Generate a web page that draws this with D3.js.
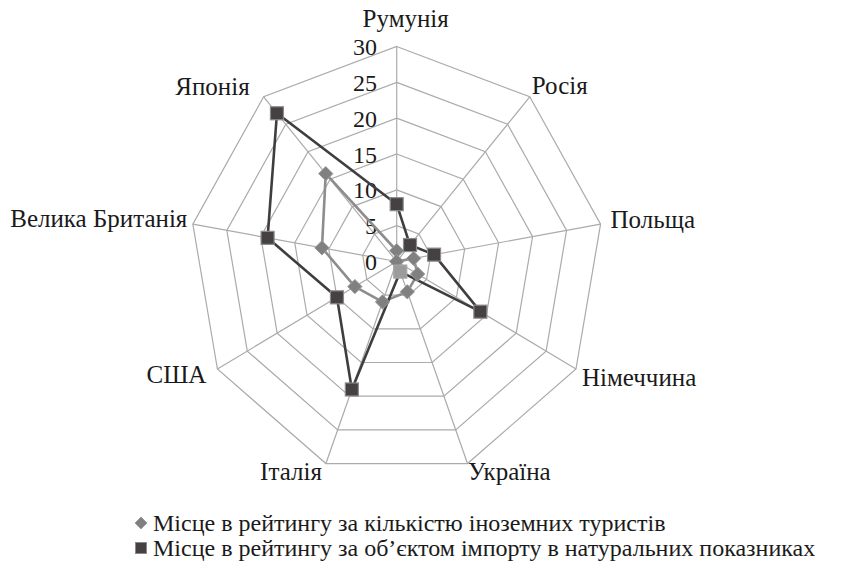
<!DOCTYPE html>
<html><head><meta charset="utf-8">
<script src="https://cdn.jsdelivr.net/npm/d3@7"></script>
</head>
<body style="margin:0;background:#fff">
<svg id="chart" width="853" height="564"></svg>
<script>
// ---- data ----
const categories = ["Румунія","Росія","Польща","Німеччина","Україна","Італія","США","Велика Британія","Японія"];
const tourists = [1.5, 0, 2.5, 3.5, 4.5, 6, 7, 11, 16];
const imports  = [8, 3, 5.5, 14, 1.5, 19, 10, 19, 27];
const tickValues = [0, 5, 10, 15, 20, 25, 30];
const seriesNames = ["Місце в рейтингу за кількістю іноземних туристів",
                     "Місце в рейтингу за об’єктом імпорту в натуральних показниках"];

// ---- layout ----
const svg = d3.select("#chart");
const FONT = '"Liberation Serif"';
const cx = 396.7, cy = 261.5;
const rX = d3.scaleLinear().domain([0, 30]).range([0, 207]);
const rY = d3.scaleLinear().domain([0, 30]).range([0, 215]);
const ang = d3.scalePoint().domain(d3.range(categories.length)).range([0, 2*Math.PI*(categories.length-1)/categories.length]);
const pt = (i, v) => [cx + rX(v)*Math.sin(ang(i)), cy - rY(v)*Math.cos(ang(i))];
// label offsets from outer vertex (layout only)
const labelLayout = [
  {a:"middle", dx:9, dy:-19.5},
  {a:"start", dx:2, dy:-3},
  {a:"start", dx:10, dy:4},
  {a:"start", dx:6, dy:17},
  {a:"start", dx:0.5, dy:16.5},
  {a:"end", dx:-4, dy:16.5},
  {a:"end", dx:-11, dy:14},
  {a:"end", dx:-5.5, dy:2.5},
  {a:"end", dx:-14, dy:-2}
];
const gridColor = "#ababab";
const FS_LABEL = 25, FS_TICK = 24, FS_LEGEND = 24;
const textColor = "#1a1a1a";

// grid rings
const ringLine = d3.line();
tickValues.filter(t => t > 0).forEach(t => {
  const pts = categories.map((c, i) => pt(i, t));
  svg.append("path").attr("d", ringLine(pts) + "Z")
    .attr("fill", "none").attr("stroke", gridColor).attr("stroke-width", 1.2);
});
// spokes
categories.forEach((c, i) => {
  const p = pt(i, 30);
  svg.append("line").attr("x1", cx).attr("y1", cy).attr("x2", p[0]).attr("y2", p[1])
    .attr("stroke", gridColor).attr("stroke-width", 1.2);
});
// tick labels
svg.selectAll("text.tick").data(tickValues).enter().append("text")
  .attr("class", "tick").attr("x", 377).attr("y", d => cy - rY(d) + 8.5)
  .attr("text-anchor", "end").attr("font-size", FS_TICK).attr("fill", textColor)
  .style("font-family", FONT).text(d => d);
// category labels
categories.forEach((c, i) => {
  const p = pt(i, 30), L = labelLayout[i];
  svg.append("text").attr("x", p[0] + L.dx).attr("y", p[1] + L.dy)
    .attr("text-anchor", L.a).attr("font-size", FS_LABEL).attr("fill", textColor)
    .style("font-family", FONT).text(c);
});

const c1 = "#808080", c1line = "#8d8d8d", c2 = "#454143", c2line = "#403d3e";
const line = d3.line();
svg.append("path").attr("d", line(tourists.map((v, i) => pt(i, v))) + "Z")
  .attr("fill", "none").attr("stroke", c1line).attr("stroke-width", 2.6).attr("stroke-linejoin", "round");
svg.append("path").attr("d", line(imports.map((v, i) => pt(i, v))) + "Z")
  .attr("fill", "none").attr("stroke", c2line).attr("stroke-width", 2.6).attr("stroke-linejoin", "round");

const diamond = d3.symbol().type(d3.symbolDiamond2).size(130);
svg.selectAll("path.d1").data(tourists).enter().append("path")
  .attr("class", "d1").attr("d", diamond)
  .attr("transform", (v, i) => `translate(${pt(i, v)})`)
  .attr("fill", c1).attr("stroke", "#9a9a9a").attr("stroke-width", 1);
const sq = 13;
svg.selectAll("rect.s2").data(imports).enter().append("rect")
  .attr("class", "s2")
  .attr("x", (v, i) => pt(i, v)[0] - sq/2).attr("y", (v, i) => pt(i, v)[1] - sq/2)
  .attr("width", sq).attr("height", sq)
  .attr("fill", (v, i) => categories[i] === "Україна" ? "#9b9b9b" : c2)
  .attr("stroke", (v, i) => categories[i] === "Україна" ? "#a5a5a5" : "#8a8a8a").attr("stroke-width", 1.2);

// legend
const lg = svg.append("g");
lg.append("path").attr("d", d3.symbol().type(d3.symbolDiamond2).size(90)())
  .attr("transform", "translate(141,523)").attr("fill", c1).attr("stroke", "#9a9a9a");
lg.append("rect").attr("x", 135.5).attr("y", 542.5).attr("width", 11).attr("height", 11)
  .attr("fill", c2).attr("stroke", "#8a8a8a");
[0, 1].forEach(k => {
  lg.append("text").attr("x", 153).attr("y", 531 + 25*k).attr("font-size", FS_LEGEND)
    .attr("fill", textColor).style("font-family", FONT).text(seriesNames[k]);
});
</script>
</body></html>
